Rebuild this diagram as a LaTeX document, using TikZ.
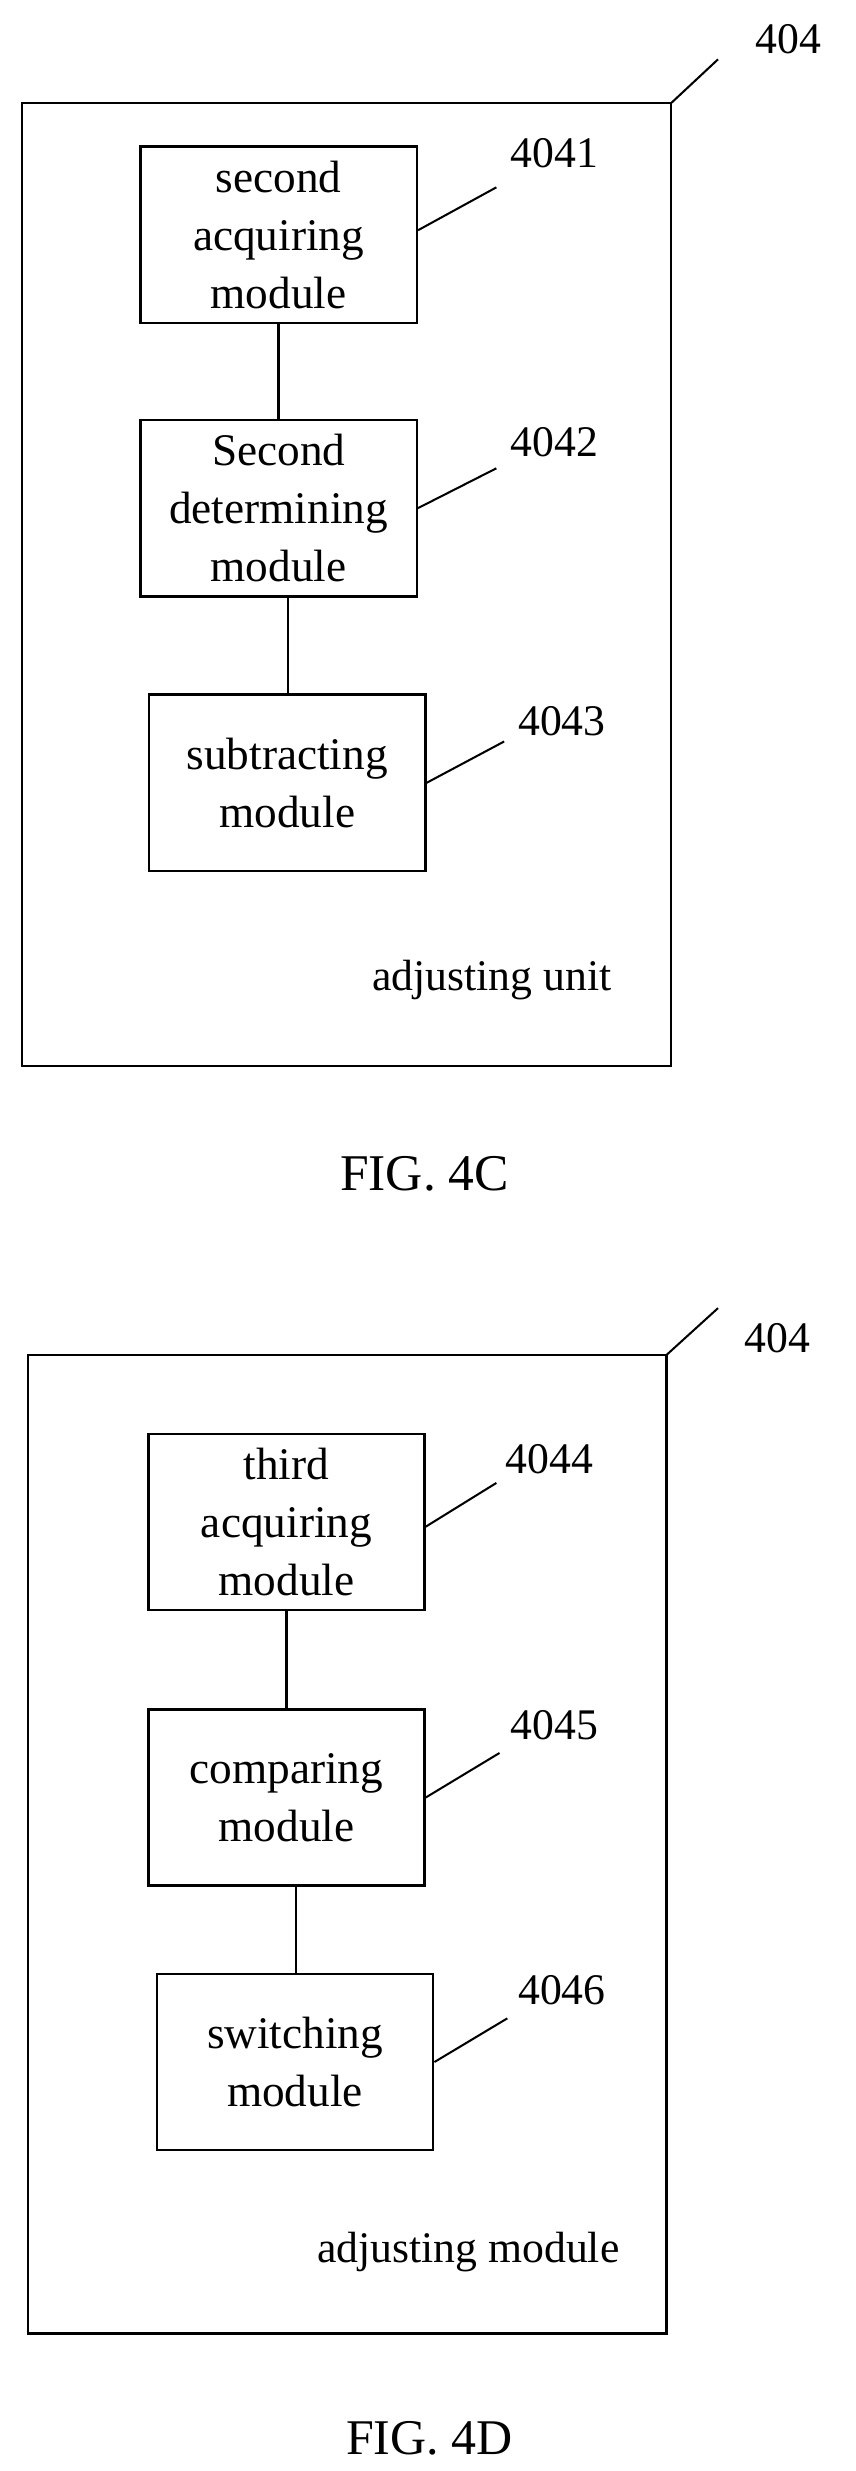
\documentclass[tikz,border=0pt]{standalone}
\usepackage{fontspec}
\setmainfont{Liberation Serif}
\begin{document}
\begin{tikzpicture}[x=1pt,y=-1pt,line width=1.6pt]
\tikzset{module/.style={
rectangle,draw,black,
minimum width=177pt,
minimum height=113pt,
align=center,
font=\fontsize{29}{37}\selectfont}}
\tikzset{refnum/.style={font=\fontsize{28}{32}\selectfont}}
\tikzset{leader/.style={line width=1.3pt}}

\useasboundingbox (0,0) rectangle (548,1583);

% FIG. 4C
\draw (14,66) rectangle (430,683);
\node[refnum] (n404a) at (505,25) {404};
\draw[leader] (430,66) -- (460,38);

\node[module] (m4041) at (178.5,150.5) {second\\acquiring\\module};
\node[module] (m4042) at (178.5,325.5) {Second\\determining\\module};
\node[module] (m4043) at (184,501.5) {subtracting\\module};

\draw (m4041.south) -- (m4042.north);
\draw (m4042.south) ++(6,0) coordinate (c1) -- (c1|-m4043.north);

\node[refnum] (n4041) at (355,98) {4041};
\draw[leader] (m4041.east) ++(0,-3) -- (318,120);
\node[refnum] (n4042) at (355,283) {4042};
\draw[leader] (m4042.east) -- (318,300);
\node[refnum] (n4043) at (360,462) {4043};
\draw[leader] (m4043.east) -- (323,475);

\node[refnum] (unitC) at (315,628) {adjusting unit};
\node[font=\fontsize{33}{38}\selectfont] (figC) at (272,752) {FIG. 4C};

% FIG. 4D
\draw (18,868) rectangle (427,1495);
\node[refnum] (n404b) at (498,857) {404};
\draw[leader] (427,868) -- (460,838);

\node[module] (m4044) at (183.5,975) {third\\acquiring\\module};
\node[module] (m4045) at (183.5,1151.5) {comparing\\module};
\node[module] (m4046) at (189,1321) {switching\\module};

\draw (m4044.south) -- (m4045.north);
\draw (m4045.south) ++(6,0) coordinate (c2) -- (c2|-m4046.north);

\node[refnum] (n4044) at (352,935) {4044};
\draw[leader] (m4044.east) ++(0,3) -- (318,950);
\node[refnum] (n4045) at (355,1105) {4045};
\draw[leader] (m4045.east) -- (320,1123);
\node[refnum] (n4046) at (360,1275) {4046};
\draw[leader] (m4046.east) -- (325,1293);

\node[refnum] (unitD) at (300,1443) {adjusting module};
\node[font=\fontsize{32}{36}\selectfont] (figD) at (275,1562) {FIG. 4D};
\end{tikzpicture}
\end{document}
